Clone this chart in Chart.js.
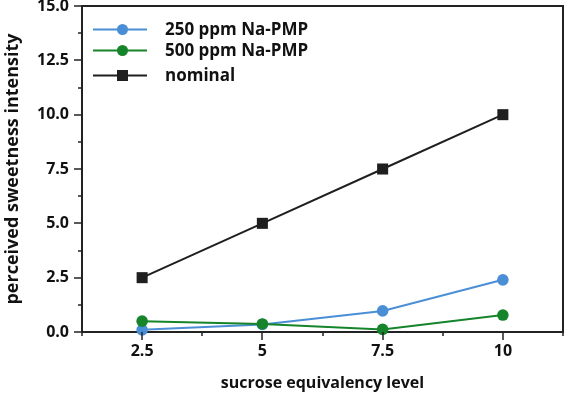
<!DOCTYPE html>
<html>
<head>
<meta charset="utf-8">
<script src="https://cdn.jsdelivr.net/npm/chart.js@4.4.0/dist/chart.umd.min.js"></script>
<style>
  html, body { margin: 0; padding: 0; background: #fff; overflow: hidden; }
  #wrap { width: 565px; height: 393px; position: relative; }
  canvas { display: block; }
</style>
</head>
<body>
<div id="wrap"><canvas id="chart"></canvas></div>
<script>
// sucrose equivalency levels
const levels = [2.5, 5, 7.5, 10];
const na250 = [0.1, 0.35, 0.97, 2.4];
const na500 = [0.5, 0.37, 0.12, 0.78];
const nominal = [2.5, 5, 7.5, 10];

const seriesNames = ["250 ppm Na-PMP", "500 ppm Na-PMP", "nominal"];
const seriesColors = ["#4a8ed6", "#15842a", "#1f1f1f"];
const legendRows = [29.5, 50.5, 75.5];

const FONT = "'Open Sans', 'DejaVu Sans', sans-serif";
const AXIS = "#222";

const toPoints = (vals) => levels.map((x, i) => ({ x: x, y: vals[i] }));
const isMajor = (v) => Math.abs(v / 2.5 - Math.round(v / 2.5)) < 1e-6;

// draws tick marks (long / short) and the top + right frame lines
const frameTicks = {
  id: "frameTicks",
  afterDraw(chart) {
    const { ctx, chartArea: a, scales } = chart;
    ctx.save();
    ctx.strokeStyle = AXIS;
    ctx.lineWidth = 2;
    ctx.beginPath();
    ctx.moveTo(a.left, a.top);
    ctx.lineTo(a.right, a.top);
    ctx.lineTo(a.right, a.bottom);
    ctx.stroke();
    ctx.lineWidth = 1.5;
    scales.y.ticks.forEach((t) => {
      const py = Math.round(scales.y.getPixelForValue(t.value));
      const len = isMajor(t.value) ? 8 : 4;
      ctx.beginPath();
      ctx.moveTo(a.left - len, py);
      ctx.lineTo(a.left, py);
      ctx.stroke();
    });
    scales.x.ticks.forEach((t) => {
      const px = Math.round(scales.x.getPixelForValue(t.value));
      const len = isMajor(t.value) ? 8 : 4;
      ctx.beginPath();
      ctx.moveTo(px, a.bottom);
      ctx.lineTo(px, a.bottom + len);
      ctx.stroke();
    });
    ctx.restore();
  },
};

// legend drawn inside the plot, line + marker + label
const innerLegend = {
  id: "innerLegend",
  afterDraw(chart) {
    const { ctx } = chart;
    ctx.save();
    chart.data.datasets.forEach((ds, i) => {
      const y = legendRows[i];
      ctx.strokeStyle = ds.borderColor;
      ctx.lineWidth = 2;
      ctx.beginPath();
      ctx.moveTo(93, y);
      ctx.lineTo(147, y);
      ctx.stroke();
      ctx.fillStyle = ds.backgroundColor;
      if (ds.pointStyle === "rect") {
        ctx.fillRect(117, y - 5.5, 11, 11);
      } else {
        ctx.beginPath();
        ctx.arc(122.5, y, 5.5, 0, Math.PI * 2);
        ctx.fill();
      }
      ctx.fillStyle = "#111";
      ctx.font = "bold 17px " + FONT;
      ctx.textBaseline = "middle";
      ctx.fillText(ds.label, 165, y + 1);
    });
    ctx.restore();
  },
};

function makeSet(idx, vals, style, order) {
  return {
    label: seriesNames[idx],
    data: toPoints(vals),
    borderColor: seriesColors[idx],
    backgroundColor: seriesColors[idx],
    pointStyle: style,
    pointRadius: style === "rect" ? 7.8 : 5.8,
    pointHoverRadius: style === "rect" ? 7.8 : 5.8,
    borderWidth: 2,
    pointBorderWidth: 0,
    clip: 10,
    order: order,
  };
}

new Chart(document.getElementById("chart"), {
  type: "line",
  data: {
    datasets: [
      makeSet(0, na250, "circle", 2),
      makeSet(1, na500, "circle", 1),
      makeSet(2, nominal, "rect", 0),
    ],
  },
  options: {
    responsive: true,
    maintainAspectRatio: false,
    animation: false,
    layout: { autoPadding: false, padding: { left: 0, right: 2, top: 6, bottom: 0 } },
    plugins: {
      legend: { display: false },
      tooltip: { enabled: false },
    },
    scales: {
      x: {
        type: "linear",
        min: 1.25,
        max: 11.25,
        afterFit: (s) => {
          s.height = 61;
          s.paddingLeft = 0;
          s.paddingRight = 0;
        },
        afterBuildTicks: (s) => {
          s.ticks = [];
          for (let v = 1.25; v <= 11.25 + 1e-6; v += 1.25) s.ticks.push({ value: v });
        },
        grid: { drawOnChartArea: false, color: "transparent", tickLength: 8 },
        border: { display: true, color: AXIS, width: 2 },
        ticks: {
          autoSkip: false,
          maxRotation: 0,
          padding: 2,
          color: "#111",
          font: { family: FONT, size: 16, weight: "bold" },
          callback: (v) => (isMajor(v) ? String(v) : ""),
        },
        title: {
          display: true,
          text: "sucrose equivalency level",
          color: "#111",
          font: { family: FONT, size: 16, weight: "bold" },
          padding: { top: 10, bottom: 0 },
        },
      },
      y: {
        min: 0,
        max: 15,
        afterFit: (s) => {
          s.width = 82;
          s.paddingTop = 0;
          s.paddingBottom = 0;
        },
        afterBuildTicks: (s) => {
          s.ticks = [];
          for (let v = 0; v <= 15 + 1e-6; v += 1.25) s.ticks.push({ value: v });
        },
        grid: { drawOnChartArea: false, color: "transparent", tickLength: 8 },
        border: { display: true, color: AXIS, width: 2 },
        ticks: {
          autoSkip: false,
          padding: 5,
          color: "#111",
          font: { family: FONT, size: 16, weight: "bold" },
          callback: (v) => (isMajor(v) ? v.toFixed(1) : ""),
        },
        title: {
          display: true,
          text: "perceived sweetness intensity",
          color: "#111",
          font: { family: FONT, size: 18, weight: "bold" },
          padding: { top: 2, bottom: 0 },
        },
      },
    },
  },
  plugins: [frameTicks, innerLegend],
});
</script>
</body>
</html>
